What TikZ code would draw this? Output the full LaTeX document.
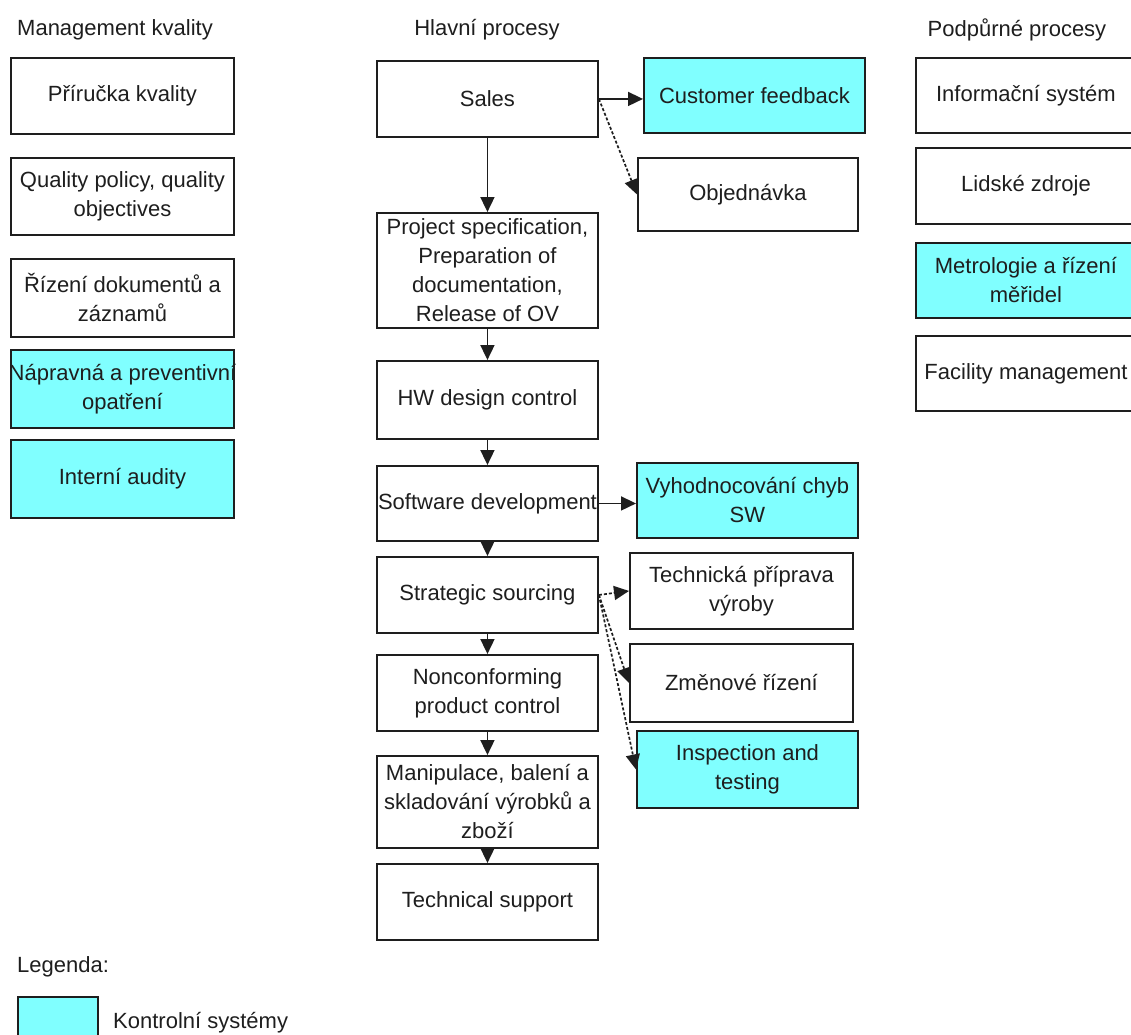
\documentclass[tikz,border=0pt]{standalone}
\usepackage{fontspec}
\setmainfont{Liberation Sans}
\usetikzlibrary{arrows.meta}
\definecolor{ctrl}{RGB}{128,255,255}
\definecolor{ink}{RGB}{30,30,30}

\begin{document}
\begin{tikzpicture}[x=1pt,y=-1pt,
  box/.style={draw=ink, line width=1.9pt, anchor=north west, inner sep=0pt, fill=white},
  ctl/.style={box, fill=ctrl},
  txt/.style={align=center, text=ink, inner sep=0pt,
              font=\fontsize{22}{29}\selectfont},
  flow/.style={draw=ink, line width=1.7pt, -{Triangle[length=15pt,width=14pt]}},
  side/.style={flow, dash pattern=on 3pt off 2pt},
]
\fill[white] (0,0) rectangle (1131,1034);
\useasboundingbox (0,0) rectangle (1131,1034);

% column headings
\node[txt, anchor=west] (hq) at (17,30) {Management kvality};
\node[txt] (hm) at (487,30) {Hlavní procesy};
\node[txt] (hs) at (1017,30) {Podpůrné procesy};

% quality management
\node[box, minimum width=223pt, minimum height=76pt, label={[txt]center:Příručka kvality}] (q1) at (10,57) {};
\node[box, minimum width=223pt, minimum height=77pt, label={[txt]center:Quality policy, quality\\objectives}] (q2) at (10,157) {};
\node[box, minimum width=223pt, minimum height=78pt, label={[txt]center:Řízení dokumentů a\\záznamů}] (q3) at (10,258) {};
\node[ctl, minimum width=223pt, minimum height=78pt, label={[txt]center:Nápravná a preventivní\\opatření}] (q4) at (10,349) {};
\node[ctl, minimum width=223pt, minimum height=78pt, label={[txt]center:Interní audity}] (q5) at (10,439) {};

% main processes
\node[box, minimum width=221pt, minimum height=76pt, label={[txt]center:Sales}] (sales) at (376,60) {};
\node[box, minimum width=221pt, minimum height=115pt, label={[txt]center:Project specification,\\Preparation of\\documentation,\\Release of OV}] (proj) at (376,212) {};
\node[box, minimum width=221pt, minimum height=78pt, label={[txt]center:HW design control}] (hw) at (376,360) {};
\node[box, minimum width=221pt, minimum height=75pt, label={[txt]center:Software development}] (sw) at (376,465) {};
\node[box, minimum width=221pt, minimum height=76pt, label={[txt]center:Strategic sourcing}] (ss) at (376,556) {};
\node[box, minimum width=221pt, minimum height=76pt, label={[txt]center:Nonconforming\\product control}] (nc) at (376,654) {};
\node[box, minimum width=221pt, minimum height=92pt, label={[txt]center:Manipulace, balení a\\skladování výrobků a\\zboží}] (man) at (376,755) {};
\node[box, minimum width=221pt, minimum height=76pt, label={[txt]center:Technical support}] (ts) at (376,863) {};

% side outputs
\node[ctl, minimum width=221pt, minimum height=75pt, label={[txt]center:Customer feedback}] (cf) at (643,57) {};
\node[box, minimum width=220pt, minimum height=73pt, label={[txt]center:Objednávka}] (obj) at (637,157) {};
\node[ctl, minimum width=221pt, minimum height=75pt, label={[txt]center:Vyhodnocování chyb\\SW}] (vyh) at (636,462) {};
\node[box, minimum width=223pt, minimum height=76pt, label={[txt]center:Technická příprava\\výroby}] (tp) at (629,552) {};
\node[box, minimum width=223pt, minimum height=78pt, label={[txt]center:Změnové řízení}] (zr) at (629,643) {};
\node[ctl, minimum width=221pt, minimum height=77pt, label={[txt]center:Inspection and\\testing}] (it) at (636,730) {};

% support processes
\node[box, minimum width=220pt, minimum height=75pt, label={[txt]center:Informační systém}] (is) at (915,57) {};
\node[box, minimum width=220pt, minimum height=76pt, label={[txt]center:Lidské zdroje}] (lz) at (915,147) {};
\node[ctl, minimum width=220pt, minimum height=75pt, label={[txt]center:Metrologie a řízení\\měřidel}] (met) at (915,242) {};
\node[box, minimum width=220pt, minimum height=75pt, label={[txt]center:Facility management}] (fm) at (915,335) {};

% main flow
\draw[flow] (sales.south) -- (proj.north);
\draw[flow] (proj.south) -- (hw.north);
\draw[flow] (hw.south) -- (sw.north);
\draw[flow] (sw.south) -- (ss.north);
\draw[flow] (ss.south) -- (nc.north);
\draw[flow] (nc.south) -- (man.north);
\draw[flow] (man.south) -- (ts.north);

% branches
\draw[flow] (sales.east) -- (sales.east -| cf.west);
\draw[side] (sales.east) -- (obj.west);
\draw[flow] (sw.east) -- (sw.east -| vyh.west);
\draw[side] (ss.east) -- (tp.west);
\draw[side] (ss.east) -- (zr.west);
\draw[side] (ss.east) -- (it.west);

% legend
\node[txt, anchor=west] (leg) at (17,967) {Legenda:};
\node[ctl, minimum width=80pt, minimum height=60pt] (legbox) at (17,996) {};
\node[txt, anchor=west] (legtxt) at (113,1023) {Kontrolní systémy};
\end{tikzpicture}
\end{document}
